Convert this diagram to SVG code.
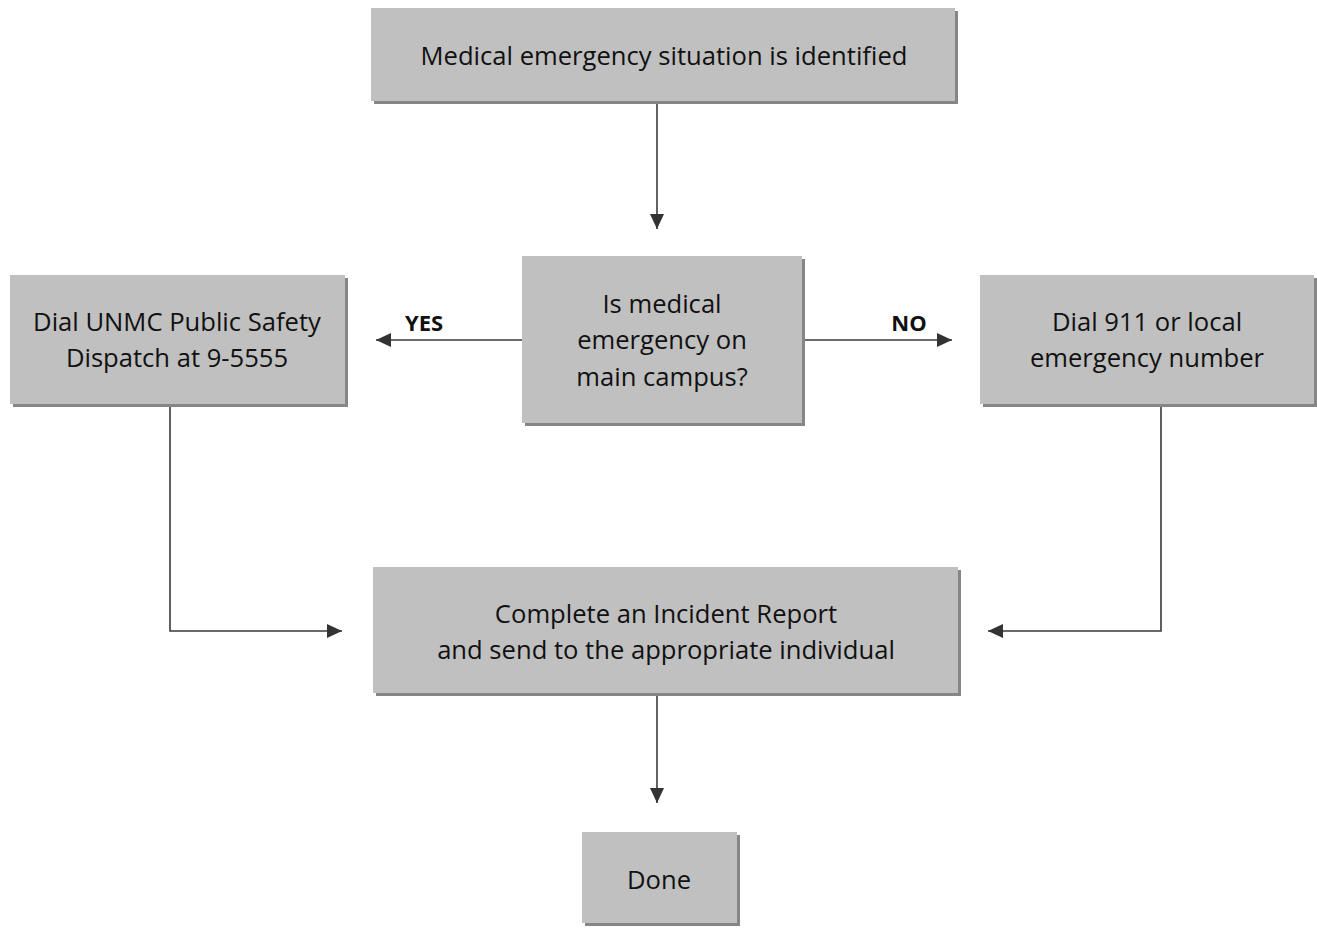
<svg xmlns="http://www.w3.org/2000/svg" width="1317" height="928" viewBox="0 0 1317 928">
<style>
.box{fill:#c0c0c0}
.sh{fill:#868686}
.t{font-family:"Open Sans","Liberation Sans",sans-serif;font-size:25.6px;fill:#111;text-anchor:middle}
.lbl{font-family:"Open Sans","Liberation Sans",sans-serif;font-size:22px;font-weight:bold;fill:#111;text-anchor:middle}
.c{fill:none;stroke:#3a3a3a;stroke-width:1.6}
</style>
<defs>
<marker id="ah" viewBox="0 0 15 14" refX="15" refY="7" markerWidth="15" markerHeight="14" markerUnits="userSpaceOnUse" orient="auto">
<path d="M0,0 L15,7 L0,14 Z" fill="#333"/>
</marker>
</defs>
<rect width="1317" height="928" fill="#fff"/>
<g id="connectors">
<path class="c" d="M657,104 V229" marker-end="url(#ah)"/>
<path class="c" d="M522,340 H376" marker-end="url(#ah)"/>
<path class="c" d="M803,340 H952" marker-end="url(#ah)"/>
<path class="c" d="M170,403 V631 H342" marker-end="url(#ah)"/>
<path class="c" d="M1161,403 V631 H988" marker-end="url(#ah)"/>
<path class="c" d="M657,696 V803" marker-end="url(#ah)"/>
<text class="lbl" x="424" y="331">YES</text>
<text class="lbl" x="909" y="331">NO</text>
</g>
<g id="n1">
<rect class="sh" x="374" y="11" width="584" height="93"/>
<rect class="box" x="371" y="8" width="584" height="93"/>
<text class="t" x="664" y="65">Medical emergency situation is identified</text>
</g>
<g id="n2">
<rect class="sh" x="525" y="259" width="280" height="167"/>
<rect class="box" x="522" y="256" width="280" height="167"/>
<text class="t" x="662" y="313">Is medical</text>
<text class="t" x="662" y="349">emergency on</text>
<text class="t" x="662" y="386">main campus?</text>
</g>
<g id="n3">
<rect class="sh" x="13" y="278" width="335" height="129"/>
<rect class="box" x="10" y="275" width="335" height="129"/>
<text class="t" x="177" y="331">Dial UNMC Public Safety</text>
<text class="t" x="177" y="367">Dispatch at 9-5555</text>
</g>
<g id="n4">
<rect class="sh" x="983" y="278" width="334" height="129"/>
<rect class="box" x="980" y="275" width="334" height="129"/>
<text class="t" x="1147" y="331">Dial 911 or local</text>
<text class="t" x="1147" y="367">emergency number</text>
</g>
<g id="n5">
<rect class="sh" x="376" y="570" width="585" height="126"/>
<rect class="box" x="373" y="567" width="585" height="126"/>
<text class="t" x="666" y="623">Complete an Incident Report</text>
<text class="t" x="666" y="659">and send to the appropriate individual</text>
</g>
<g id="n6">
<rect class="sh" x="585" y="835" width="155" height="91"/>
<rect class="box" x="582" y="832" width="155" height="91"/>
<text class="t" x="659" y="889">Done</text>
</g>
</svg>
